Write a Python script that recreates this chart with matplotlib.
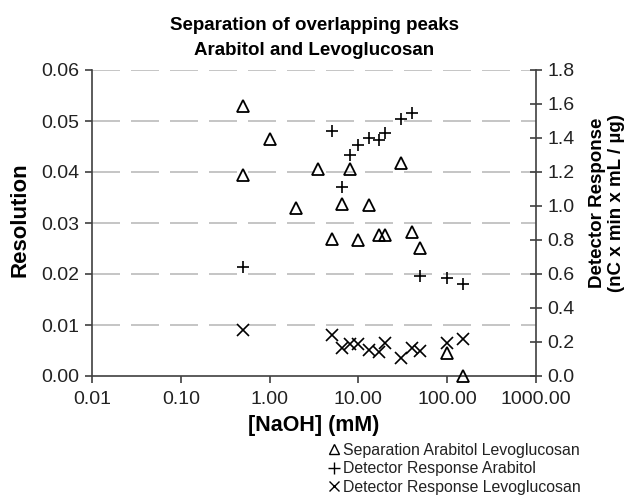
import matplotlib
matplotlib.use("Agg")
import matplotlib.pyplot as plt
from matplotlib.lines import Line2D
from matplotlib.ticker import FixedLocator, FixedFormatter

plt.rcParams['font.family'] = ['Liberation Sans', 'DejaVu Sans']

# Data
sep_x = [0.5, 0.5, 1, 2, 3.5, 5, 6.5, 8, 10, 13, 17, 20, 30, 40, 50, 100, 150]
sep_y = [0.053, 0.0395, 0.0465, 0.033, 0.0406, 0.0269, 0.0337, 0.0406, 0.0267,
         0.0335, 0.0276, 0.0276, 0.0418, 0.0282, 0.0251, 0.0045, 0.0]

ara_x = [0.5, 5, 6.5, 8, 10, 13, 17, 20, 30, 40, 50, 100, 150]
ara_y = [0.64, 1.44, 1.11, 1.30, 1.36, 1.40, 1.39, 1.43, 1.51, 1.55, 0.59, 0.577, 0.54]

levo_x = [0.5, 5, 6.5, 8, 10, 13, 17, 20, 30, 40, 50, 100, 150]
levo_y = [0.27, 0.24, 0.165, 0.19, 0.19, 0.153, 0.14, 0.194, 0.106, 0.165, 0.147, 0.194, 0.22]

x_ticks = [0.01, 0.1, 1, 10, 100, 1000]
x_labels = ["0.01", "0.10", "1.00", "10.00", "100.00", "1000.00"]
yl_ticks = [0.0, 0.01, 0.02, 0.03, 0.04, 0.05, 0.06]
yl_labels = ["0.00", "0.01", "0.02", "0.03", "0.04", "0.05", "0.06"]
yr_ticks = [0.0, 0.2, 0.4, 0.6, 0.8, 1.0, 1.2, 1.4, 1.6, 1.8]
yr_labels = ["0.0", "0.2", "0.4", "0.6", "0.8", "1.0", "1.2", "1.4", "1.6", "1.8"]

W, H = 633, 496
fig = plt.figure(figsize=(W / 100, H / 100), dpi=100)
L, R, T, B = 92, 536, 70, 376
ax = fig.add_axes([L / W, 1 - B / H, (R - L) / W, (B - T) / H])
ax2 = ax.twinx()

spine_c = '#404040'
txt_c = '#222222'

ax.set_xscale('log')
ax.set_xlim(0.01, 1000)
ax.set_ylim(0, 0.06)
ax2.set_ylim(0, 1.8)

# grid lines
for v in yl_ticks[1:]:
    ax.axhline(v, color='#c0c0c0', lw=1.3, dashes=(15.5, 6.1), zorder=0)

ax.plot(sep_x, sep_y, linestyle='none', marker='^', ms=9, mfc='none', mec='black',
        mew=1.3, clip_on=False, zorder=3)
ax2.plot(ara_x, ara_y, linestyle='none', marker='+', ms=8.5, mec='black', mew=1.2,
         clip_on=False, zorder=3)
ax2.plot(levo_x, levo_y, linestyle='none', marker='x', ms=8.5, mec='black', mew=1.2,
         clip_on=False, zorder=3)

ax.xaxis.set_major_locator(FixedLocator(x_ticks))
ax.xaxis.set_major_formatter(FixedFormatter(x_labels))
ax.xaxis.set_minor_locator(FixedLocator([]))
ax.yaxis.set_major_locator(FixedLocator(yl_ticks))
ax.yaxis.set_major_formatter(FixedFormatter(yl_labels))
ax2.yaxis.set_major_locator(FixedLocator(yr_ticks))
ax2.yaxis.set_major_formatter(FixedFormatter(yr_labels))

for a in (ax, ax2):
    a.spines['top'].set_visible(False)
    for s in a.spines.values():
        s.set_color(spine_c)
        s.set_linewidth(1.2)
ax.spines['right'].set_visible(False)
ax2.spines['left'].set_visible(False)
ax2.spines['bottom'].set_visible(False)

ax.tick_params(axis='both', which='major', labelsize=14, colors=spine_c,
               labelcolor=txt_c, length=5, width=1.2, direction='out')
ax.tick_params(axis='x', pad=6)
ax.tick_params(axis='y', pad=4)
ax2.tick_params(axis='y', labelsize=14, colors=spine_c, labelcolor=txt_c,
                length=8, width=1.2, direction='inout', pad=4)

ax.set_xlabel('[NaOH] (mM)', fontsize=15.5, fontweight='bold', color='black', labelpad=5)
ax.set_ylabel('Resolution', fontsize=16, fontweight='bold', color='black',
              rotation=90, va='center', ha='center')
ax.yaxis.set_label_coords((20 - L) / (R - L), (B - 220) / (B - T))
ax2.set_ylabel('Detector Response\n(nC x min x mL / µg)', fontsize=13.5,
               fontweight='bold', color='black', rotation=90, va='center', ha='center',
               linespacing=1.15)
ax2.yaxis.set_label_coords((607 - L) / (R - L), (B - 203) / (B - T))

fig.text((L + R) / 2 / W, 1 - 30 / H, 'Separation of overlapping peaks',
         ha='center', va='baseline', fontsize=13.5, fontweight='bold')
fig.text((L + R) / 2 / W, 1 - 55 / H, 'Arabitol and Levoglucosan',
         ha='center', va='baseline', fontsize=13.5, fontweight='bold')

handles = [
    Line2D([], [], linestyle='none', marker='^', ms=7, mfc='none', mec='black', mew=1.0),
    Line2D([], [], linestyle='none', marker='+', ms=9, mec='black', mew=1.0),
    Line2D([], [], linestyle='none', marker='x', ms=7, mec='black', mew=1.0),
]
labels = ['Separation Arabitol Levoglucosan', 'Detector Response Arabitol',
          'Detector Response Levoglucosan']
fig.legend(handles, labels, loc='upper left', bbox_to_anchor=(329 / W, 1 - 443 / H),
           frameon=False, fontsize=11.4, handlelength=0.6, handletextpad=0.3,
           labelspacing=0.22, borderpad=0, borderaxespad=0, labelcolor='#222222')

fig.savefig('out.png', dpi=100)
